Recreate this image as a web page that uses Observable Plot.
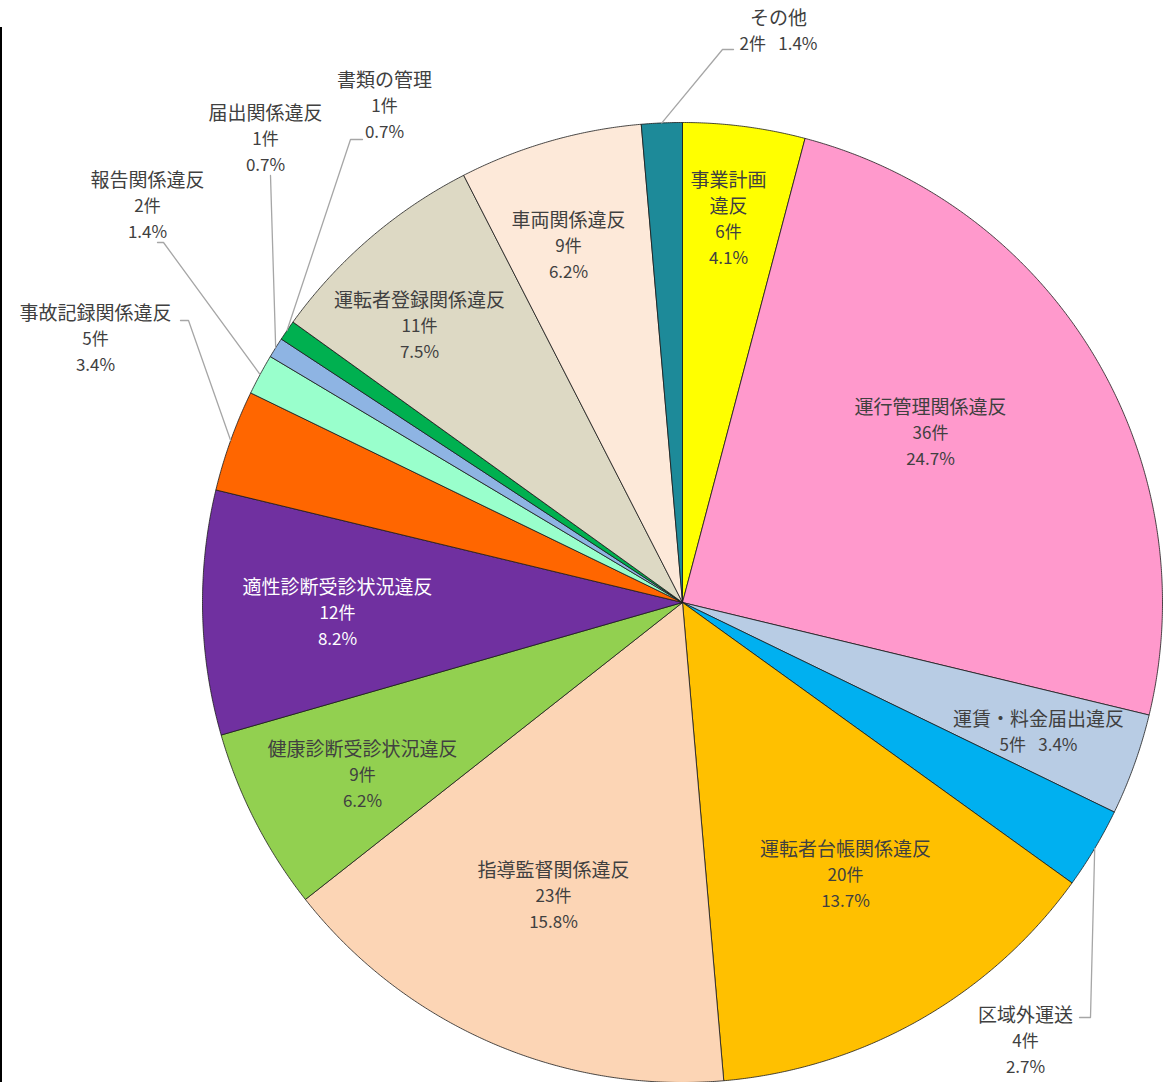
<!DOCTYPE html>
<html><head><meta charset="utf-8">
<script src="https://cdn.jsdelivr.net/npm/d3@7"></script>
<script src="https://cdn.jsdelivr.net/npm/@observablehq/plot@0.6"></script>
<style>
html,body{margin:0;padding:0;background:#fff;}
#wrap{position:relative;width:1164px;height:1082px;overflow:hidden;}
#frame{position:absolute;left:0;top:27px;bottom:0;width:2px;background:#000;}
</style></head><body><div id="wrap"><div id="frame"></div></div>
<script>
// ---- data (clockwise from 12 o'clock) ----
const categories = ["事業計画違反","運行管理関係違反","運賃・料金届出違反","区域外運送","運転者台帳関係違反","指導監督関係違反","健康診断受診状況違反","適性診断受診状況違反","事故記録関係違反","報告関係違反","届出関係違反","書類の管理","運転者登録関係違反","車両関係違反","その他"];
const counts = [6,36,5,4,20,23,9,12,5,2,1,1,11,9,2];
const colors = ["#FFFF00","#FF99CC","#B8CCE4","#00B0F0","#FFC000","#FCD5B5","#92D050","#7030A0","#FF6600","#99FFCC","#8EB4E3","#00B050","#DDD9C4","#FDE9D9","#1D8A99"];
const textColors = ["#404040","#404040","#404040","#404040","#404040","#404040","#404040","#FFFFFF","#404040","#404040","#404040","#404040","#404040","#404040","#404040"];

// ---- label layout (offsets from pie centre, px) ----
const labelFormat = ["split4","stack","inline","stack","stack","stack","stack","stack","stack","stack","stack","stack","stack","stack","inline"];
const labelPos = [[46,-383],[248,-169],[356,130],[343,439],[163,273],[-129,294],[-320,173],[-345,11],[-587,-263],[-535,-396],[-417,-463],[-298,-496],[-263,-276],[-114,-356],[96,-571]];
const leaderPath = {3:[[408,415],[397,415]], 8:[[-494,-282],[-502,-282]], 9:[[-519,-360],[-525,-360]], 10:[[-412,-427]], 11:[[-332,-463],[-320,-463]], 14:[[40,-553],[51,-553]]};
const lineStep = 26;

const R = 480;
const data = categories.map((name,i)=>({name, count:counts[i], color:colors[i], i}));
const total = d3.sum(counts);
const arcs = d3.pie().sort(null).value(d=>d.count)(data);
const polar = (a, r) => [r*Math.sin(a), -r*Math.cos(a)];

const slicePts = arcs.flatMap((a)=>{
  const i = a.data.i;
  const n = Math.max(2, Math.ceil((a.endAngle-a.startAngle)/0.004));
  const pts = [[0,0]];
  for (let k=0;k<=n;k++) pts.push(polar(a.startAngle+(a.endAngle-a.startAngle)*k/n, R));
  pts.push([0,0]);
  return pts.map(p=>({key:i, x:p[0], y:p[1], color:colors[i]}));
});

const leaderPts = Object.entries(leaderPath).flatMap(([k,rest])=>{
  const a = arcs[+k];
  const start = polar((a.startAngle+a.endAngle)/2, R);
  return [start, ...rest].map(p=>({key:+k, x:p[0], y:p[1]}));
});

const labelLines = data.flatMap(d=>{
  const pct = (d.count/total*100).toFixed(1)+"%";
  const f = labelFormat[d.i];
  let lines;
  if (f==="split4") lines = [[d.name.slice(0,4),1],[d.name.slice(4),1],[d.count+"件",0],[pct,0]];
  else if (f==="inline") lines = [[d.name,1],[d.count+"件\u2002 "+pct,0]];
  else lines = [[d.name,1],[d.count+"件",0],[pct,0]];
  const n = lines.length;
  return lines.map(([t,big],j)=>({x:labelPos[d.i][0], y:labelPos[d.i][1]+(j-(n-1)/2)*lineStep, text:t, big, tc:textColors[d.i]}));
});

const font = "'Noto Sans CJK JP', 'Noto Sans', sans-serif";
const chart = Plot.plot({
  width:1164, height:1082, margin:0,
  x:{type:"linear", domain:[-682,482], range:[0,1164], axis:null},
  y:{type:"linear", domain:[-602,480], range:[0,1082], axis:null},
  color:{type:"identity"},
  style:{background:"transparent"},
  marks:[
    Plot.line(slicePts,{x:"x",y:"y",z:"key",fill:"color",stroke:"#1a1a1a",strokeWidth:0.8,curve:"linear"}),
    Plot.line(leaderPts,{x:"x",y:"y",z:"key",stroke:"#A6A6A6",strokeWidth:1.3,curve:"linear"}),
    Plot.text(labelLines.filter(d=>d.big),{x:"x",y:"y",text:"text",fill:"tc",fontSize:19,fontFamily:font}),
    Plot.text(labelLines.filter(d=>!d.big),{x:"x",y:"y",text:"text",fill:"tc",fontSize:17,fontFamily:font})
  ]
});
document.getElementById("wrap").appendChild(chart);
</script></body></html>
